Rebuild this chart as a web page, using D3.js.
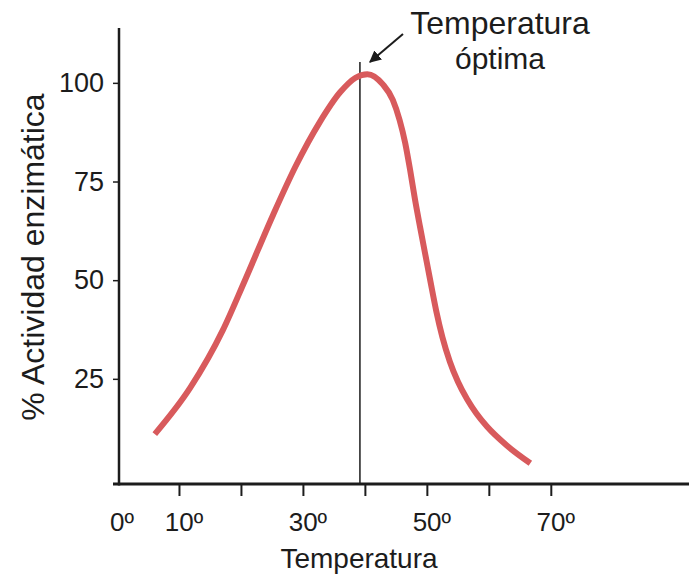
<!DOCTYPE html>
<html>
<head>
<meta charset="utf-8">
<script src="https://cdn.jsdelivr.net/npm/d3@7/dist/d3.min.js"></script>
<style>
  html, body { margin: 0; padding: 0; background: #ffffff; }
  svg { display: block; font-family: "Liberation Sans", Arial, Helvetica, sans-serif; }
</style>
</head>
<body>
<svg id="chart" width="689" height="575"></svg>
<script>
// ---- data ----
const temperatures = [6.1, 11.8, 17.1, 20.6, 25.2, 28.8, 32.7, 36.0, 38.5, 40.4, 42.9, 44.5, 45.6, 46.5, 47.3, 48.1, 48.9, 49.7, 50.6, 51.5, 52.5, 53.7, 55.0, 56.5, 58.0, 59.7, 62.9, 66.7];
const activity     = [11.0, 22.7, 37.4, 49.8, 66.6, 78.8, 90.0, 97.6, 101.3, 102.2, 99.6, 95.7, 90.6, 84.8, 77.9, 70.3, 63.5, 56.9, 49.5, 42.3, 35.6, 29.4, 24.3, 19.8, 16.2, 12.9, 8.1, 3.6];
const xTickValues = [10, 20, 30, 40, 50, 60, 70];
const xLabelValues = [0, 10, 30, 50, 70];
const xLabelTexts = ["0º", "10º", "30º", "50º", "70º"];
const yTickValues = [25, 50, 75, 100];
const yTickLabels = ["25", "50", "75", "100"];
const optimumTemp = 39.2;
const xTitle = "Temperatura";
const yTitle = "% Actividad enzimática";
const noteLines = ["Temperatura", "óptima"];

// ---- layout ----
const svg = d3.select("#chart");
const ink = "#1c1c1c";
const x = d3.scaleLinear().domain([0, 92.3]).range([117, 689]);
const y = d3.scaleLinear().domain([-1.65, 113.9]).range([484, 28]);
const axisY0 = 484;
const axisX0 = 119;

// x axis
const gx = svg.append("g").attr("transform", `translate(0,${axisY0})`)
  .call(d3.axisBottom(x).tickValues(xTickValues).tickSize(12).tickSizeOuter(0).tickFormat(""));
gx.select(".domain").attr("stroke", ink).attr("stroke-width", 3).attr("d", `M113,0H689`);
gx.selectAll(".tick line").attr("stroke", ink).attr("stroke-width", 2);

// x labels
svg.append("g").selectAll("text").data(xLabelValues).join("text")
  .attr("x", d => x(d) + 5)
  .attr("y", 531)
  .attr("text-anchor", "middle")
  .attr("font-size", 26)
  .attr("fill", ink)
  .text((d, i) => xLabelTexts[i]);

// y axis
const gy = svg.append("g").attr("transform", `translate(${axisX0},0)`)
  .call(d3.axisLeft(y).tickValues(yTickValues).tickSize(6).tickSizeOuter(0).tickPadding(9)
    .tickFormat((d, i) => yTickLabels[i]));
gy.select(".domain").attr("stroke", ink).attr("stroke-width", 2.5).attr("d", `M0,28V${axisY0 + 1.5}`);
gy.selectAll(".tick line").attr("stroke", ink).attr("stroke-width", 1.5);
gy.selectAll(".tick text").attr("font-size", 27).attr("fill", ink)
  .attr("font-family", "Liberation Sans, Arial, sans-serif");

// optimum vertical line
svg.append("line")
  .attr("x1", x(optimumTemp)).attr("x2", x(optimumTemp))
  .attr("y1", 62).attr("y2", axisY0)
  .attr("stroke", ink).attr("stroke-width", 1.5);

// curve
const pts = temperatures.map((t, i) => [t, activity[i]]);
svg.append("path")
  .datum(pts)
  .attr("fill", "none")
  .attr("stroke", "#d85a5c")
  .attr("stroke-width", 6)
  .attr("stroke-linecap", "butt")
  .attr("d", d3.line().x(d => x(d[0])).y(d => y(d[1])).curve(d3.curveMonotoneX));

// annotation arrow
const defs = svg.append("defs");
defs.append("marker").attr("id", "ah")
  .attr("viewBox", "0 0 10 10").attr("refX", 9).attr("refY", 5)
  .attr("markerWidth", 12).attr("markerHeight", 12).attr("markerUnits", "userSpaceOnUse")
  .attr("orient", "auto")
  .append("path").attr("d", "M0,0L10,5L0,10z").attr("fill", ink);
svg.append("line")
  .attr("x1", 403).attr("y1", 34).attr("x2", 370).attr("y2", 62)
  .attr("stroke", ink).attr("stroke-width", 2)
  .attr("marker-end", "url(#ah)");

svg.append("g").selectAll("text").data(noteLines).join("text")
  .attr("x", 500)
  .attr("y", (d, i) => 34 + i * 35)
  .attr("text-anchor", "middle")
  .attr("font-size", (d, i) => i === 0 ? 32 : 30)
  .attr("fill", ink)
  .text(d => d);

// titles
svg.append("text")
  .attr("x", 359).attr("y", 568)
  .attr("text-anchor", "middle")
  .attr("font-size", 28)
  .attr("fill", ink)
  .text(xTitle);

svg.append("text")
  .attr("transform", "translate(44,257) rotate(-90)")
  .attr("text-anchor", "middle")
  .attr("font-size", 32)
  .attr("fill", ink)
  .text(yTitle);
</script>
</body>
</html>
